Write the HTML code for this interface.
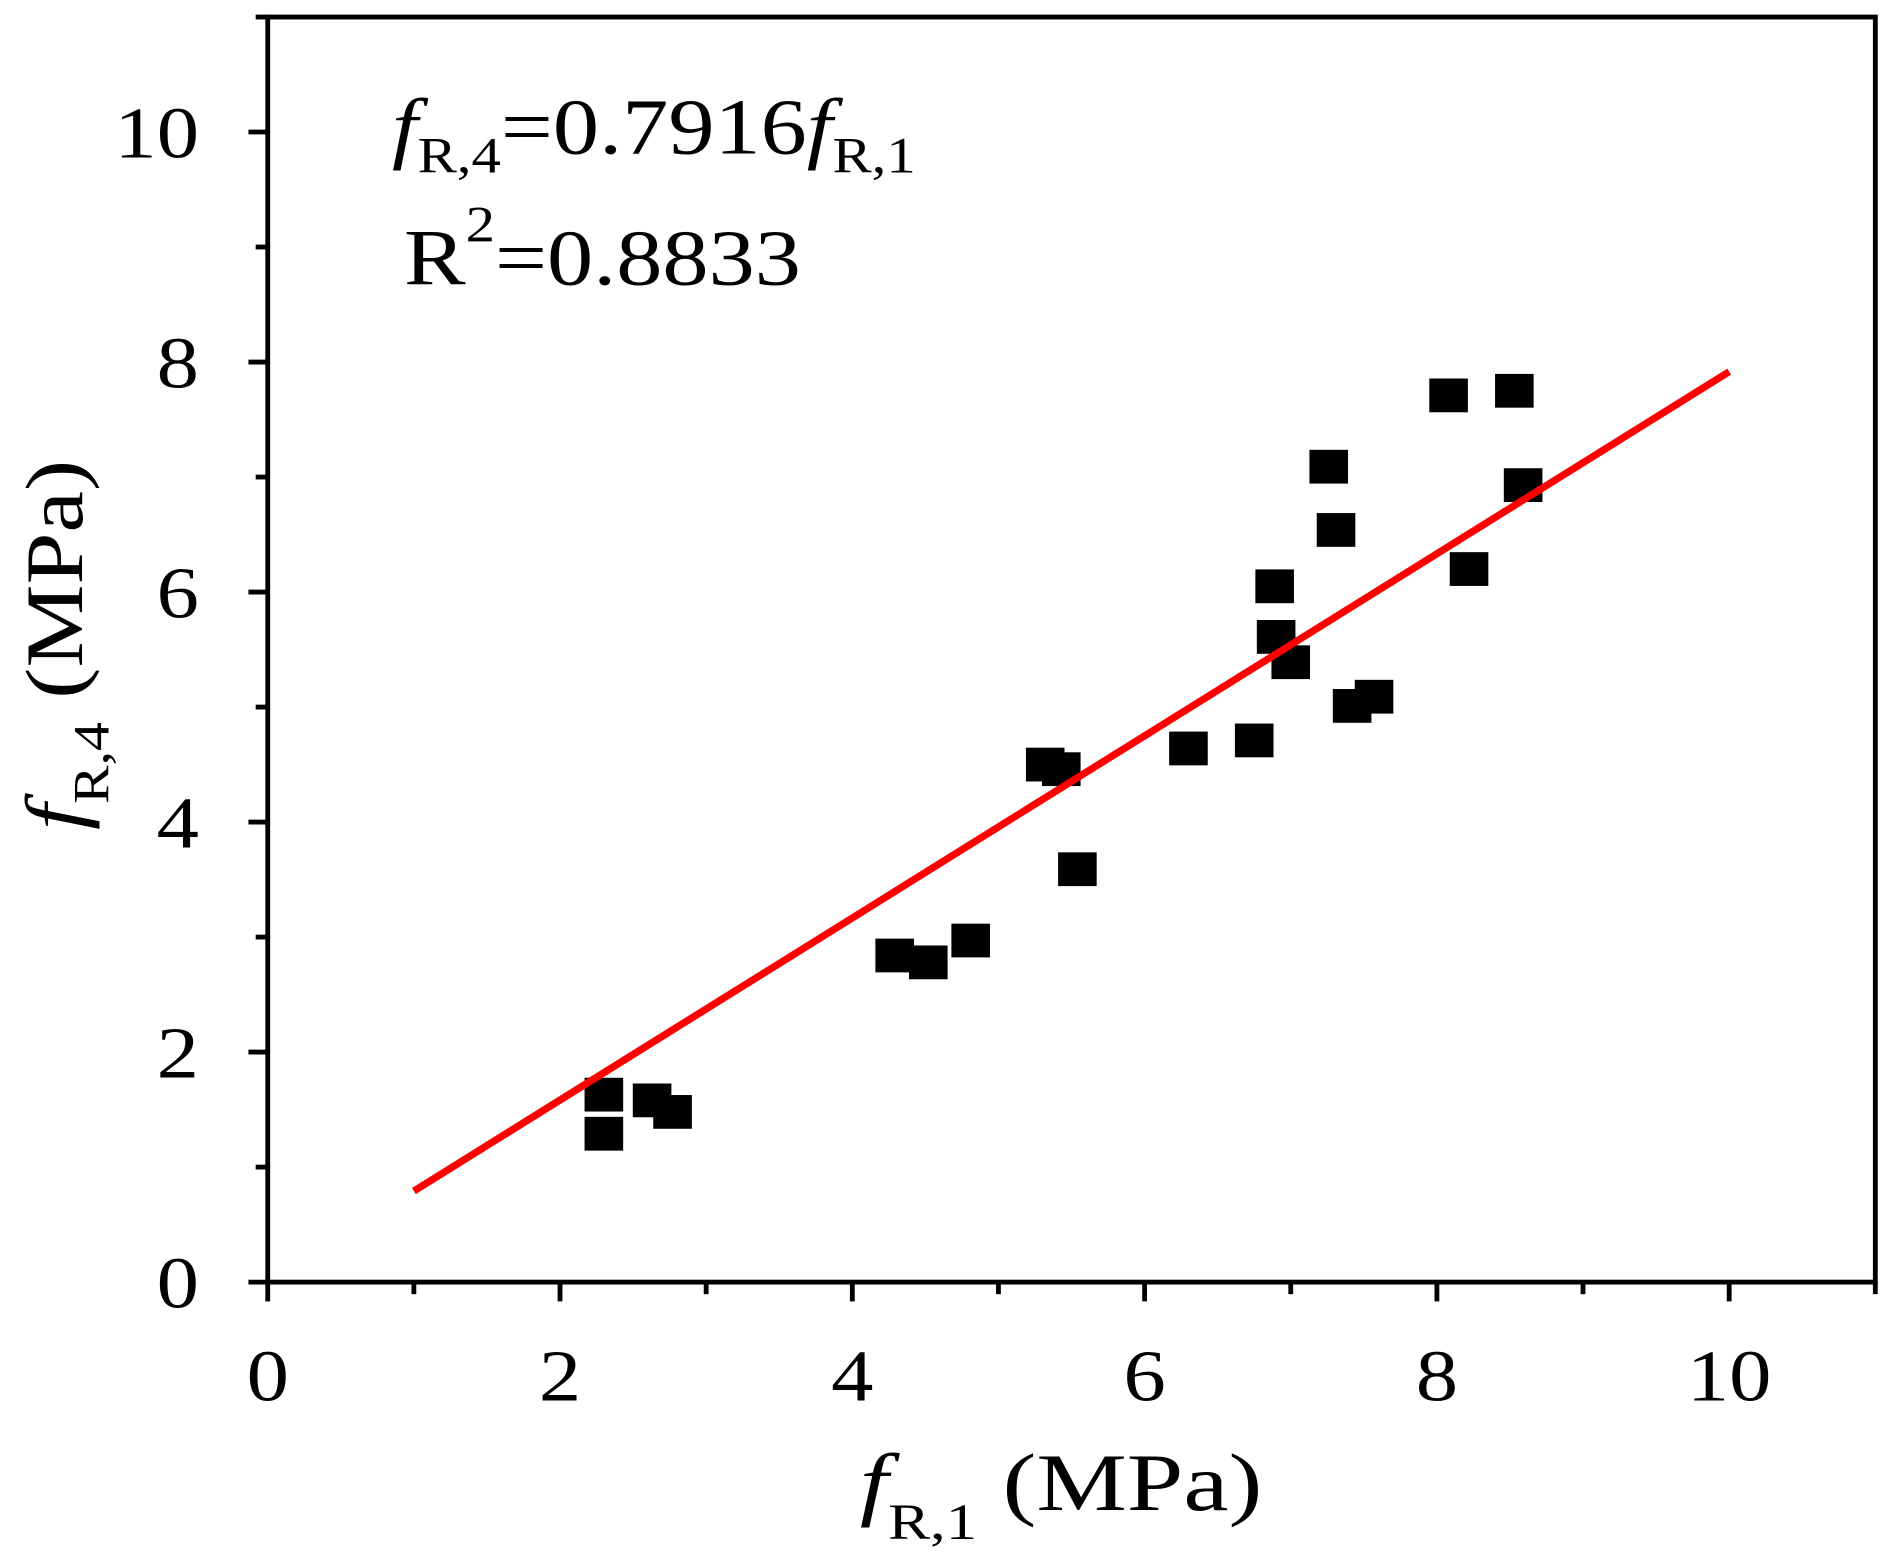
<!DOCTYPE html>
<html><head><meta charset="utf-8"><style>html,body{margin:0;padding:0;background:#fff}svg{display:block}</style></head>
<body>
<svg width="1891" height="1556" viewBox="0 0 1568 1290" xmlns="http://www.w3.org/2000/svg" font-family="Liberation Serif, serif">
<rect width="1568" height="1290" fill="#fff"/>
<g id="plot"></g>
<text transform="translate(325,127) scale(1.16,1)" font-size="66"><tspan font-style="italic">f</tspan><tspan font-size="42" dy="16">R,4</tspan><tspan dy="-16">=0.7916</tspan><tspan font-style="italic">f</tspan><tspan font-size="42" dy="16">R,1</tspan></text>
<text transform="translate(335,236) scale(1.16,1)" font-size="66">R<tspan font-size="42" dy="-36">2</tspan><tspan dy="36">=0.8833</tspan></text>
<text transform="translate(713,1252) scale(1.24,1)" font-size="68"><tspan font-style="italic">f</tspan><tspan font-size="42" dy="24">R,1</tspan><tspan dy="-24"> (MPa)</tspan></text>
<text transform="translate(68,688) rotate(-90) scale(1.14,1)" font-size="68"><tspan font-style="italic">f</tspan><tspan font-size="42" dy="22">R,4</tspan><tspan dy="-22"> (MPa)</tspan></text>
<script>
const xData=[2.30,2.30,2.63,2.77,4.29,4.52,4.81,5.32,5.43,5.54,6.30,6.75,6.89,6.90,7.00,7.26,7.31,7.42,7.57,8.08,8.22,8.53,8.59];
const yData=[1.63,1.29,1.58,1.48,2.84,2.78,2.97,4.50,4.46,3.59,4.64,4.71,6.05,5.61,5.39,7.09,6.54,5.01,5.09,7.71,6.20,7.75,6.93];
const xTicks=[0,2,4,6,8,10];
const yTicks=[0,2,4,6,8,10];
const slope=0.7916;
const fitRange=[1,10];
const NS='http://www.w3.org/2000/svg';
const L=222,R=1555,T=14,B=1063;
const sx=v=>L+(R-L)*v/11;
const sy=v=>B-(B-T)*v/11;
const g=document.getElementById('plot');
function mk(tag,a){const e=document.createElementNS(NS,tag);for(const k in a)e.setAttribute(k,a[k]);g.appendChild(e);return e;}
for(let v=0;v<=11;v++){
  const maj=v%2===0;
  const t=mk('line',{x1:sx(v),x2:sx(v),y1:B,y2:B+(maj?16:10),stroke:'#000','stroke-width':4});
  
  
  const u=mk('line',{y1:sy(v),y2:sy(v),x1:L,x2:L-(maj?16:10),stroke:'#000','stroke-width':4});
  
  
}
xTicks.forEach(v=>{const t=mk('text',{transform:'translate('+sx(v)+','+(B+98)+') scale(1.15,1)','font-size':61,'text-anchor':'middle'});t.textContent=v;
  
  });
yTicks.forEach(v=>{const t=mk('text',{transform:'translate('+(L-57)+','+(sy(v)+21)+') scale(1.15,1)','font-size':61,'text-anchor':'end'});t.textContent=v;
  
  });
const fr=mk('rect',{x:L,y:T,width:R-L,height:B-T,fill:'none',stroke:'#000','stroke-width':4});


xData.forEach((x,i)=>{const p=mk('rect',{x:sx(x)-16,y:sy(yData[i])-14,width:32,height:28,fill:'#000'});
  
  });
const fl=mk('line',{x1:sx(fitRange[0]),y1:sy(slope*fitRange[0]),x2:sx(fitRange[1]),y2:sy(slope*fitRange[1]),stroke:'#f00','stroke-width':6});


</script>
</svg>
</body></html>
